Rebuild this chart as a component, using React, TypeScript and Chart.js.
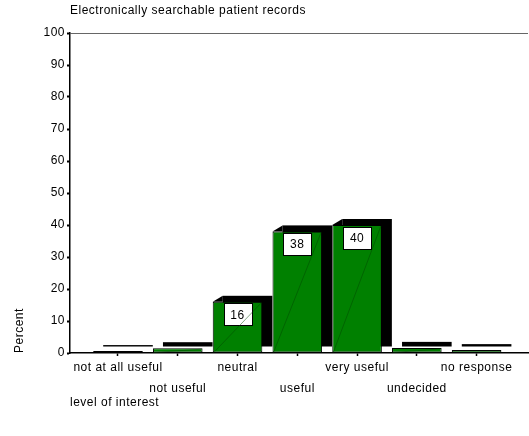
import React, { useEffect, useRef } from 'react';
import { Chart, registerables } from 'chart.js';

Chart.register(...registerables);

// ---- data ----
const categories = [
  'not at all useful',
  'not useful',
  'neutral',
  'useful',
  'very useful',
  'undecided',
  'no response',
];
const percents = [0.6, 1.5, 16, 38, 40, 1.6, 0.9];
const yTickValues = [0, 10, 20, 30, 40, 50, 60, 70, 80, 90, 100];
const titleText = 'Electronically searchable patient records';
const yAxisTitle = 'Percent';
const xAxisTitle = 'level of interest';
const labelThreshold = 10;

// ---- style constants ----
const FONT = "'Liberation Sans', Arial, sans-serif";
const FS = 12;
const SPACING = '0.5px';
const GREEN = '#008000';
const DX = 10;
const DY = 6;

const spacingPlugin = {
  id: 'letterSpacing',
  beforeLayout(chart: any) {
    (chart.ctx as any).letterSpacing = SPACING;
  },
  beforeDraw(chart: any) {
    (chart.ctx as any).letterSpacing = SPACING;
  },
};

const depthPlugin = {
  id: 'depthShadow',
  beforeDatasetsDraw(chart: any) {
    const { ctx } = chart;
    const meta = chart.getDatasetMeta(0);
    ctx.save();
    ctx.fillStyle = '#000';
    meta.data.forEach((el: any) => {
      const { x, y, base, width } = el.getProps(['x', 'y', 'base', 'width'], true);
      const x1 = x - width / 2;
      const h = base - y;
      ctx.fillRect(x1 + DX, y - DY, width, h);
      if (h > DY * 2) {
        ctx.beginPath();
        ctx.moveTo(x1, y);
        ctx.lineTo(x1 + DX, y - DY);
        ctx.lineTo(x1 + DX, y);
        ctx.closePath();
        ctx.fill();
      }
    });
    ctx.restore();
  },
  afterDatasetsDraw(chart: any) {
    const { ctx } = chart;
    const meta = chart.getDatasetMeta(0);
    ctx.save();
    meta.data.forEach((el: any, i: number) => {
      const { x, y, base, width } = el.getProps(['x', 'y', 'base', 'width'], true);
      const x1 = x - width / 2;
      const x2 = x + width / 2;
      const v = percents[i];
      if (v >= labelThreshold) {
        const w = 28;
        const hh = 22;
        const bx = Math.round(x - w / 2) + 0.5;
        const by = Math.round(y + 1.5) + 0.5;
        ctx.fillStyle = '#fff';
        ctx.fillRect(bx, by, w, hh);
        ctx.strokeStyle = '#000';
        ctx.lineWidth = 1;
        ctx.strokeRect(bx, by, w, hh);
      }
      if (base - y > 4) {
        ctx.beginPath();
        ctx.moveTo(x1 + 1, base);
        ctx.lineTo(x2 - 1, y + 1);
        ctx.strokeStyle = 'rgba(0,70,0,0.8)';
        ctx.lineWidth = 0.6;
        ctx.stroke();
      }
      if (v >= labelThreshold) {
        ctx.fillStyle = '#000';
        ctx.font = `${FS}px ${FONT}`;
        ctx.textAlign = 'center';
        ctx.textBaseline = 'middle';
        ctx.fillText(String(Math.round(v)), x, y + 2 + 11.5);
      }
    });
    ctx.restore();
  },
};

export default function App() {
  const canvasRef = useRef<HTMLCanvasElement | null>(null);

  useEffect(() => {
    if (!canvasRef.current) return;
    Chart.defaults.font.family = FONT;
    Chart.defaults.font.size = FS;
    Chart.defaults.color = '#000';

    const chart = new Chart(canvasRef.current, {
      type: 'bar',
      data: {
        datasets: [
          {
            data: percents.map((v, i) => ({ x: i, y: v })),
            backgroundColor: GREEN,
            borderColor: '#000',
            borderWidth: 1,
            borderSkipped: false,
            categoryPercentage: 1,
            barPercentage: 0.83,
          },
        ],
      },
      options: {
        animation: false,
        responsive: true,
        maintainAspectRatio: false,
        layout: { padding: { top: 0, right: 1, bottom: 0, left: 0 } },
        plugins: {
          legend: { display: false },
          tooltip: { enabled: false },
          title: {
            display: true,
            text: titleText,
            align: 'start',
            fullSize: false,
            font: { size: FS, weight: 'normal' },
            color: '#000',
            padding: { top: 3.8, bottom: 14.8 },
          },
        },
        scales: {
          x: {
            type: 'linear',
            min: -0.803,
            max: 6.86,
            offset: false,
            afterFit: (scale: any) => {
              scale.height = 83;
            },
            afterBuildTicks: (scale: any) => {
              scale.ticks = categories.map((_, i) => ({ value: i }));
            },
            ticks: {
              autoSkip: false,
              maxRotation: 0,
              minRotation: 0,
              padding: 1,
              color: '#000',
              font: { size: FS, lineHeight: 21 / FS },
              callback: (value: any) => {
                const i = Math.round(Number(value));
                const label = categories[i] ?? '';
                return i % 2 === 0 ? label : ['', label];
              },
            },
            grid: {
              offset: false,
              drawOnChartArea: false,
              drawTicks: true,
              tickLength: 3,
              tickWidth: 1.5,
              tickColor: '#000',
            },
            border: { display: true, color: '#000', width: 1.5 },
            title: {
              display: true,
              text: xAxisTitle,
              align: 'start',
              color: '#000',
              font: { size: FS },
              padding: { top: 0, bottom: 26 },
            },
          },
          y: {
            min: 0,
            max: 100,
            afterFit: (scale: any) => {
              scale.width = 70;
            },
            afterBuildTicks: (scale: any) => {
              scale.ticks = yTickValues.map((v) => ({ value: v }));
            },
            ticks: {
              padding: 2,
              color: '#000',
              font: { size: FS },
            },
            grid: {
              drawOnChartArea: true,
              color: (ctx: any) => (ctx.tick && ctx.tick.value === 100 ? '#666' : 'rgba(0,0,0,0)'),
              lineWidth: 1,
              drawTicks: true,
              tickLength: 3,
              tickWidth: 2,
              tickColor: '#000',
            },
            border: { display: true, color: '#000', width: 1.5 },
            title: {
              display: true,
              text: yAxisTitle,
              align: 'start',
              color: '#000',
              font: { size: FS },
              padding: { top: 12.5, bottom: 0 },
            },
          },
        },
      },
      plugins: [spacingPlugin, depthPlugin],
    } as any);

    return () => chart.destroy();
  }, []);

  return (
    <div
      style={{
        position: 'fixed',
        left: 0,
        top: 0,
        width: 529,
        height: 436,
        background: '#fff',
      }}
    >
      <canvas ref={canvasRef} />
    </div>
  );
}
